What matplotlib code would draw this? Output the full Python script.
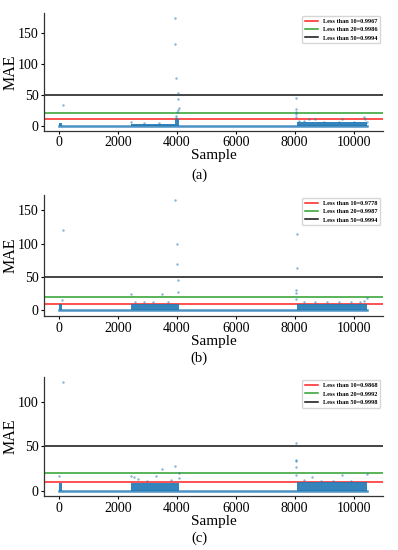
import numpy as np
import matplotlib
matplotlib.use("Agg")
import matplotlib.pyplot as plt

plt.rcParams['font.family'] = ['Liberation Serif', 'DejaVu Serif']

# --- data ---------------------------------------------------------------
# baseline of near-zero errors (sample range)
base_a = [0, 10450]
base_b = [0, 10450]
base_c = [0, 10450]

# dense bands: start, end, upper edge of the point cloud
band_start_a = [0, 2450, 3950, 8080]
band_end_a = [100, 3950, 4080, 10450]
band_top_a = [4, 2.5, 10, 5]

band_start_b = [0, 2450, 8080]
band_end_b = [100, 4080, 10450]
band_top_b = [10, 10, 10]

band_start_c = [0, 2450, 8080]
band_end_c = [100, 4080, 10450]
band_top_c = [9, 9, 9.5]

# isolated points
pts_x_a = [130, 3930, 3950, 3970, 4050, 4060, 4070, 4060, 4000, 3980, 3990,
           8030, 8050, 8060, 8050, 8040, 8500, 8700, 9600, 10350, 10400, 2450,
           8150, 8300, 9000, 9500, 10000, 10450, 2900, 3400]
pts_y_a = [33, 173, 132, 77, 52, 42, 29, 25, 22, 15, 12,
           44, 27, 22, 18, 14, 10, 10, 10, 14, 10, 5,
           8, 7, 6, 6, 6, 6, 3.5, 3.5]

pts_x_b = [150, 3930, 4000, 4000, 8070, 8070, 4060, 4050, 3500, 2450, 8050,
           8050, 8050, 100, 10450, 10350, 2600, 2900, 3200, 3700, 8300, 8700,
           9100, 9500, 9900, 10200]
pts_y_b = [121, 165, 100, 70, 115, 64, 45, 28, 24, 25, 30,
           26, 17, 16, 18, 14, 13, 12, 13, 12, 13, 12,
           13, 12, 12, 13]

pts_x_c = [150, 8050, 8050, 8060, 8060, 3950, 3500, 4080, 2450, 2550, 2700,
           3300, 8600, 9600, 10450, 0, 4080, 8300, 8050, 3000, 3800, 8900,
           9300, 9900]
pts_y_c = [122, 54, 35, 33, 27, 28, 25, 20, 17, 15, 13,
           17, 15, 18, 19, 16, 14, 12, 18, 11, 12, 11,
           11, 11]

labels_a = ['Less than 10=0.9967', 'Less than 20=0.9986', 'Less than 50=0.9994']
labels_b = ['Less than 10=0.9778', 'Less than 20=0.9987', 'Less than 50=0.9994']
labels_c = ['Less than 10=0.9868', 'Less than 20=0.9992', 'Less than 50=0.9998']
thresholds = [10, 20, 50]
th_colors = ['#ff2020', '#2ca02c', '#111111']

panels = [
    (base_a, band_start_a, band_end_a, band_top_a, pts_x_a, pts_y_a, labels_a, '(a)', [0, 50, 100, 150]),
    (base_b, band_start_b, band_end_b, band_top_b, pts_x_b, pts_y_b, labels_b, '(b)', [0, 50, 100, 150]),
    (base_c, band_start_c, band_end_c, band_top_c, pts_x_c, pts_y_c, labels_c, '(c)', [0, 50, 100]),
]

# axes boxes (left, bottom, width, height) in figure fraction
boxes = [(0.1106, 0.762, 0.852, 0.2145),
         (0.1106, 0.4255, 0.852, 0.22),
         (0.1106, 0.098, 0.852, 0.2165)]
cap_y = [1 - 175 / 550, 1 - 358 / 550, 1 - 538 / 550]

blue = '#1f77b4'

fig = plt.figure(figsize=(3.98, 5.5), dpi=100)

for (base, bs, be, bt, px, py, labs, cap, yt), box, cy in zip(panels, boxes, cap_y):
    ax = fig.add_axes(box)
    ax.plot(base, [0, 0], color=blue, lw=1.8, alpha=0.8, zorder=2)
    for s, e, t in zip(bs, be, bt):
        ax.fill_between([s, e], [0, 0], [t, t], color=blue, lw=0, alpha=0.9, zorder=2)
    ax.scatter(px, py, s=3, color=blue, lw=0, alpha=0.55, zorder=3)
    for th, c, lab in zip(thresholds, th_colors, labs):
        ax.axhline(th, color=c, lw=1.1, label=lab, zorder=1)
    ax.set_xlim(-500, 11000)
    ax.autoscale(axis='y')
    ax.set_xticks([0, 2000, 4000, 6000, 8000, 10000])
    ax.set_yticks(yt)
    ax.tick_params(labelsize=10, length=2.5, width=0.8, pad=1.5)
    ax.spines['top'].set_visible(False)
    ax.spines['right'].set_visible(False)
    for sp in ['left', 'bottom']:
        ax.spines[sp].set_color('#333333')
        ax.spines[sp].set_linewidth(0.9)
    ax.set_ylabel('MAE', fontsize=11.5)
    ax.yaxis.set_label_coords(-0.074, 0.5)
    ax.set_xlabel('Sample', fontsize=11, labelpad=0)
    ax.legend(loc='upper right', prop={'size': 4.5, 'weight': 'bold'},
              handlelength=2.0, borderpad=0.45, labelspacing=0.45)
    fig.text(0.5, cy, cap, ha='center', va='center', fontsize=10.5)

fig.savefig('out.png', dpi=100)
